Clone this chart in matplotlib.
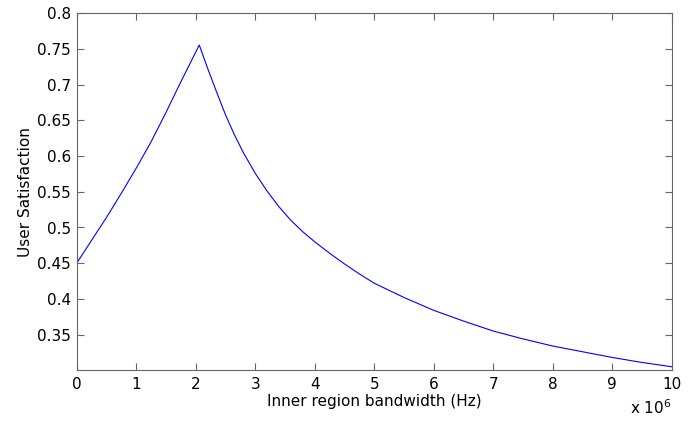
import numpy as np
import matplotlib
matplotlib.use("Agg")
import matplotlib.pyplot as plt

# bandwidth in MHz (axis shows x 10^6 Hz)
bw_mhz = [0.0, 0.25, 0.5, 0.75, 1.0, 1.25, 1.5, 1.75, 2.06,
          2.2, 2.35, 2.5, 2.65, 2.8, 3.0, 3.2, 3.4, 3.6, 3.8, 4.0,
          4.25, 4.5, 4.75, 5.0, 5.25, 5.5, 5.75, 6.0, 6.5, 7.0,
          7.5, 8.0, 8.5, 9.0, 9.5, 10.0]
satisfaction = [0.450, 0.482, 0.514, 0.548, 0.583, 0.620, 0.661, 0.704, 0.7556,
                0.723, 0.690, 0.658, 0.630, 0.605, 0.576, 0.551, 0.529, 0.510, 0.494, 0.480,
                0.464, 0.449, 0.435, 0.422, 0.412, 0.402, 0.393, 0.384, 0.369, 0.355,
                0.344, 0.334, 0.326, 0.318, 0.311, 0.305]

xticks = [0, 1, 2, 3, 4, 5, 6, 7, 8, 9, 10]
yticks = [0.35, 0.4, 0.45, 0.5, 0.55, 0.6, 0.65, 0.7, 0.75, 0.8]
ytick_labels = ["0.35", "0.4", "0.45", "0.5", "0.55", "0.6", "0.65", "0.7", "0.75", "0.8"]

plt.rcParams['font.family'] = ['DejaVu Sans']

fig = plt.figure(figsize=(6.96, 4.23), dpi=100)
ax = fig.add_axes([76.7 / 696, 1 - 370.3 / 423, 595 / 696, 357 / 423])

x = np.array(bw_mhz) * 1e6
ax.plot(x, satisfaction, color=(0, 0, 1), lw=0.8)

ax.set_xlim(0, 1e7)
ax.set_ylim(0.3, 0.8)
ax.set_xticks([t * 1e6 for t in xticks])
ax.set_xticklabels([str(t) for t in xticks])
ax.set_yticks(yticks)
ax.set_yticklabels(ytick_labels)

for s in ax.spines.values():
    s.set_color('0.4')
    s.set_linewidth(0.8)
ax.tick_params(direction='in', length=5, width=0.8, color='0.4',
               top=True, right=True, labelsize=11, labelcolor='black')
ax.tick_params(axis='x', pad=5)
ax.tick_params(axis='y', pad=4)

ax.set_xlabel("Inner region bandwidth (Hz)", fontsize=11, labelpad=1)
ax.set_ylabel("User Satisfaction", fontsize=11, labelpad=3)

fig.text(671.7 / 696, 1 - 398 / 423, r"x 10$^{6}$", ha='right', va='top', fontsize=11)

fig.savefig("out.png", dpi=100)
